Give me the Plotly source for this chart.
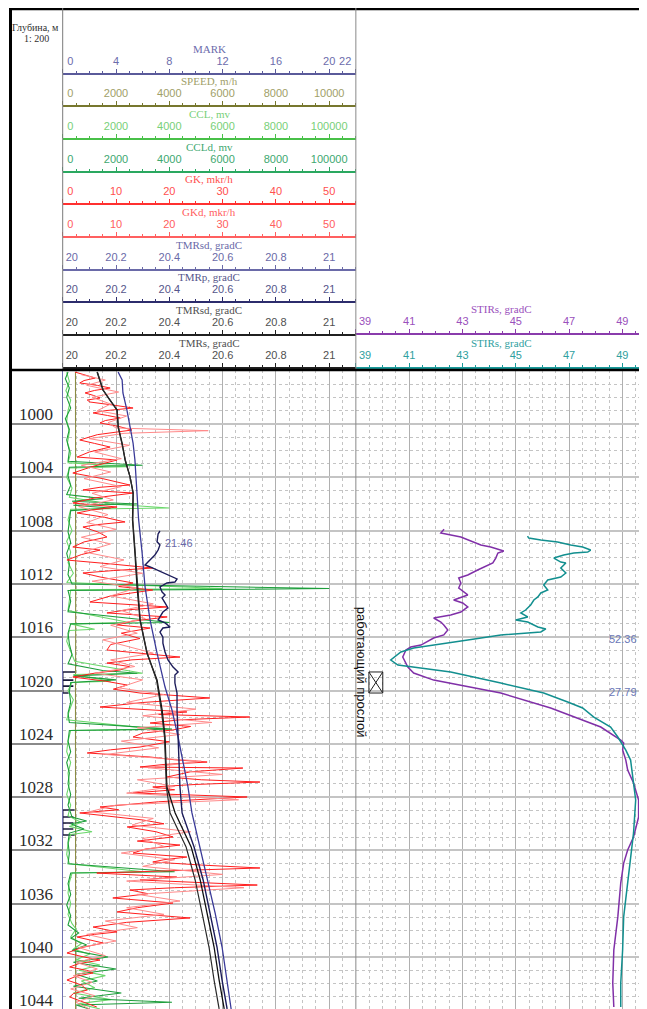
import plotly.graph_objects as go

# ---------------- DATA ----------------
depth_ticks = [1000, 1004, 1008, 1012, 1016, 1020, 1024, 1028, 1032, 1036, 1040, 1044]

mark_depth = [1018.61, 1018.61, 1020.19, 1020.19, None, 1019.22, 1019.22, None, 1019.67, 1019.67, None,
              1028.97, 1028.97, 1030.84, 1030.84, None, 1029.49, 1029.49, None, 1029.94, 1029.94, None, 1030.39, 1030.39]
mark_value = [0.95, 0.0, 0.0, 0.45, None, 0.0, 0.8, None, 0.0, 0.8, None,
              0.9, 0.0, 0.0, 0.9, None, 0.0, 0.8, None, 0.0, 0.8, None, 0.0, 0.8]

speed_depth = [996.1, 1000, 1004, 1008, 1012, 1016, 1020, 1024, 1028, 1032, 1036, 1040, 1043.9]
speed_value = [480, 485, 478, 482, 490, 486, 480, 484, 488, 482, 486, 480, 484]

ccl_depth = [996.1, 996.8, 997.5, 998.2, 999.0, 999.8, 1000.6, 1001.4, 1002.2, 1002.9, 1003.2, 1003.3, 1004.0,
             1004.8, 1005.5, 1006.0, 1006.3, 1006.4, 1007.2, 1008.0, 1008.8, 1009.6, 1010.4, 1011.2, 1011.9,
             1012.35, 1012.45, 1013.2, 1014.0, 1014.9, 1015.0, 1015.4, 1015.5, 1016.3, 1017.0, 1017.8, 1018.7,
             1018.8, 1019.3, 1019.4, 1020.0, 1020.7, 1021.5, 1022.2, 1022.9, 1023.0, 1023.8, 1024.6, 1025.4,
             1026.2, 1027.0, 1027.8, 1028.6, 1029.4, 1029.9, 1030.2, 1030.6, 1030.8, 1031.5, 1032.3, 1033.0,
             1033.6, 1033.7, 1034.4, 1035.2, 1036.0, 1036.8, 1037.5, 1037.9, 1038.5, 1039.0, 1039.4, 1039.8,
             1040.2, 1040.6, 1041.0, 1041.4, 1041.8, 1042.3, 1042.7, 1043.2, 1043.5, 1043.9]
ccl_value = [150, 250, 120, 300, 200, 150, 250, 180, 300, 200, 2400, 250, 150,
             350, 250, 1800, 4000, 300, 200, 350, 150, 300, 200, 400, 150,
             6000, 300, 250, 200, 2500, 300, 1200, 250, 150, 300, 450, 3000,
             400, 1800, 350, 200, 400, 250, 150, 3500, 300, 200, 150, 300,
             200, 250, 150, 300, 200, 700, 250, 1100, 300, 200, 150, 250,
             3000, 350, 250, 200, 300, 200, 350, 500, 300, 700, 400, 1000,
             500, 1400, 600, 1600, 700, 1200, 400, 1800, 600, 1400]

ccld_depth = [996.1, 996.6, 997.3, 998.0, 998.8, 999.6, 1000.4, 1001.2, 1002.0, 1002.8, 1003.1, 1003.25, 1003.9,
              1004.6, 1005.3, 1005.6, 1005.8, 1006.0, 1006.1, 1006.3, 1006.5, 1007.3, 1008.1, 1008.9, 1009.7,
              1010.5, 1011.3, 1012.0, 1012.35, 1012.5, 1013.3, 1014.1, 1014.9, 1015.0, 1015.7, 1016.5, 1017.3,
              1018.0, 1018.5, 1018.7, 1018.9, 1019.2, 1019.4, 1020.1, 1020.9, 1021.7, 1022.4, 1022.9, 1023.0,
              1023.8, 1024.6, 1025.4, 1026.2, 1027.0, 1027.8, 1028.6, 1029.5, 1029.8, 1030.0, 1030.4, 1030.7,
              1031.4, 1032.2, 1033.0, 1033.6, 1033.7, 1034.5, 1035.3, 1036.1, 1036.9, 1037.6, 1038.2, 1038.6,
              1039.1, 1039.5, 1040.0, 1040.4, 1040.9, 1041.3, 1041.8, 1042.2, 1042.7, 1043.1, 1043.4, 1043.6, 1043.9]
ccld_value = [200, 100, 250, 150, 300, 100, 250, 150, 250, 200, 3000, 250, 200,
              300, 150, 1500, 350, 2800, 400, 1800, 300, 250, 200, 300, 150,
              250, 200, 350, 10000, 200, 300, 200, 4000, 300, 200, 250, 350,
              200, 1500, 2800, 400, 2000, 300, 250, 300, 200, 250, 4100, 250,
              200, 300, 150, 250, 200, 300, 200, 350, 900, 300, 800, 250,
              200, 250, 200, 4200, 300, 200, 300, 150, 300, 200, 600, 300,
              900, 350, 1700, 400, 2000, 500, 1300, 400, 2200, 600, 4100, 500, 1000]

gk_depth = [996.10, 996.33, 996.55, 996.74, 996.92, 997.10, 997.30, 997.48, 997.67, 997.86, 998.05, 998.20,
            998.35, 998.58, 998.80, 999.00, 999.17, 999.36, 999.55, 999.74, 999.92, 1000.18, 1000.45, 1000.80,
            1001.20, 1001.46, 1001.73, 1002.10, 1002.48, 1002.70, 1003.20, 1003.68, 1004.10, 1004.58, 1004.75,
            1004.95, 1005.18, 1005.55, 1005.93, 1006.23, 1006.45, 1006.68, 1007.00, 1007.35, 1007.55, 1007.73,
            1008.10, 1008.48, 1008.85, 1009.23, 1009.46, 1009.80, 1010.21, 1010.50, 1010.81, 1011.00, 1011.18,
            1011.48, 1011.70, 1011.93, 1012.20, 1012.46, 1012.90, 1013.36, 1013.73, 1013.95, 1014.18, 1014.48,
            1014.80, 1015.08, 1015.31, 1015.70, 1016.10, 1016.55, 1016.96, 1017.20, 1017.49, 1017.70, 1017.94,
            1018.20, 1018.46, 1018.70, 1018.99, 1019.30, 1019.59, 1019.90, 1020.19, 1020.56, 1020.90, 1021.24,
            1021.61, 1021.80, 1021.99, 1022.20, 1022.44, 1022.70, 1022.96, 1023.20, 1023.49, 1023.85, 1024.24,
            1024.45, 1024.69, 1024.99, 1025.20, 1025.37, 1025.55, 1025.74, 1025.82, 1026.10, 1026.49, 1026.70,
            1026.87, 1027.05, 1027.24, 1027.45, 1027.69, 1027.99, 1028.35, 1028.74, 1028.95, 1029.19, 1029.45,
            1029.72, 1030.00, 1030.24, 1030.60, 1030.99, 1031.30, 1031.60, 1031.90, 1032.20, 1032.50, 1032.70,
            1032.87, 1033.10, 1033.32, 1033.50, 1033.70, 1034.00, 1034.22, 1034.60, 1034.80, 1034.97, 1035.25,
            1035.57, 1035.95, 1036.30, 1036.62, 1036.85, 1037.07, 1037.40, 1037.75, 1038.12, 1038.30, 1038.50,
            1038.95, 1039.30, 1039.70, 1040.00, 1040.23, 1040.50, 1040.75, 1041.00, 1041.20, 1041.45, 1041.73,
            1042.10, 1042.48, 1042.75, 1043.00, 1043.40, 1043.75]
gk_value = [2.3, 4.5, 6.1, 4.0, 3.2, 6.5, 8.9, 6.0, 4.2, 5.8, 7.0, 4.6,
            5.1, 9.5, 13.2, 8.0, 5.7, 8.4, 10.8, 8.0, 7.0, 10.5, 13.0, 6.5,
            3.2, 6.0, 8.9, 5.0, 2.7, 10.2, 5.5, 1.9, 7.5, 12.6, 7.0,
            3.8, 13.2, 6.0, 1.9, 10.2, 5.5, 2.7, 7.8, 11.7, 6.5, 3.8,
            6.6, 8.3, 4.0, 1.9, 7.0, 3.5, 0.8, 9.0, 16.9, 9.5, 3.8,
            7.0, 10.0, 13.2, 10.5, 16.9, 9.0, 5.1, 19.6, 12.0, 8.3, 19.6,
            13.0, 10.2, 16.4, 11.0, 14.5, 9.0, 8.3, 15.0, 22.0, 13.0, 8.3,
            12.5, 10.8, 6.0, 1.9, 8.0, 12.1, 9.5, 14.5, 27.6, 15.0, 7.0,
            23.3, 18.0, 35.1, 22.0, 16.4, 24.0, 20.7, 15.0, 13.2, 20.0, 14.5,
            9.0, 4.6, 16.4, 21.0, 27.1, 19.0, 14.5, 33.8, 24.0, 19.6, 26.0,
            37.0, 25.0, 16.9, 21.0, 13.2, 34.6, 18.0, 7.0, 10.5, 3.2, 9.0,
            15.1, 19.0, 12.1, 17.5, 20.7, 14.0, 22.0, 15.5, 13.2, 23.3, 19.0,
            16.9, 26.0, 37.0, 20.0, 6.4, 21.4, 14.5, 36.5, 21.0, 12.6, 16.0,
            9.4, 20.7, 14.0, 10.2, 17.0, 23.9, 12.0, 5.7, 10.2, 6.0, 2.7,
            7.6, 3.5, 0.8, 4.0, 7.0, 3.0, 1.3, 4.5, 5.7, 2.5, 0.8,
            3.5, 4.6, 2.0, 1.3, 4.0, 6.4]

gkd_depth = [996.3, 996.7, 997.1, 997.6, 998.0, 998.5, 999.0, 999.4, 999.9, 1000.3, 1000.5, 1000.7, 1001.1,
             1001.6, 1002.1, 1002.6, 1003.1, 1003.6, 1004.1, 1004.7, 1005.2, 1005.7, 1006.2, 1006.8, 1007.4,
             1007.9, 1008.5, 1009.0, 1009.6, 1010.2, 1010.7, 1011.2, 1011.8, 1012.3, 1012.9, 1013.5, 1014.0,
             1014.6, 1015.1, 1015.7, 1016.2, 1016.7, 1017.2, 1017.7, 1018.2, 1018.7, 1019.2, 1019.8, 1020.3,
             1020.9, 1021.4, 1021.9, 1022.4, 1022.8, 1023.3, 1023.8, 1024.3, 1024.8, 1025.3, 1025.8, 1026.3,
             1026.7, 1027.2, 1027.7, 1028.2, 1028.6, 1029.1, 1029.6, 1030.1, 1030.6, 1031.1, 1031.7, 1032.2,
             1032.7, 1033.2, 1033.8, 1034.3, 1034.8, 1035.3, 1035.8, 1036.3, 1036.8, 1037.3, 1037.8, 1038.3,
             1038.8, 1039.3, 1039.9, 1040.4, 1040.9, 1041.4, 1041.9, 1042.4, 1042.9, 1043.4, 1043.9]
gkd_value = [3.5, 8.0, 4.5, 10.5, 5.5, 9.0, 6.5, 12.0, 8.5, 10.0, 27.3, 11.5, 5.0,
             12.5, 6.0, 11.0, 3.5, 9.0, 4.0, 11.0, 5.5, 9.5, 3.0, 8.5, 4.5,
             10.0, 3.5, 9.0, 4.0, 11.5, 7.0, 15.0, 5.5, 14.0, 9.0, 17.0, 11.0,
             15.5, 9.0, 14.0, 7.5, 12.5, 17.0, 9.0, 13.5, 6.0, 15.0, 10.5, 19.0,
             12.0, 25.0, 15.0, 28.0, 14.0, 22.0, 11.0, 18.0, 8.0, 26.0, 16.0, 30.0,
             14.0, 21.0, 12.0, 33.0, 10.0, 5.0, 17.0, 13.0, 24.0, 15.0, 19.0, 11.0,
             21.0, 15.0, 30.0, 12.0, 34.0, 14.0, 22.0, 12.0, 19.0, 8.0, 14.0, 4.5,
             10.0, 3.0, 8.0, 2.5, 6.5, 2.0, 5.5, 1.5, 6.0, 2.5, 5.0]

tmrsd_blue_depth = [996.10, 996.70, 997.67, 998.95, 1000.23, 1001.43, 1002.70, 1005.18, 1007.20, 1009.68, 1012.23,
                    1014.71, 1017.19, 1019.74, 1021.46, 1023.49, 1027.24, 1029.19, 1031.74, 1034.22, 1036.70,
                    1039.25, 1041.73, 1043.90]
tmrsd_blue_value = [20.208, 20.223, 20.226, 20.241, 20.253, 20.264, 20.271, 20.279, 20.285, 20.298, 20.309,
                    20.328, 20.354, 20.384, 20.410, 20.433, 20.470, 20.485, 20.515, 20.545, 20.572,
                    20.598, 20.617, 20.632]

tmrp_depth = [1008.03, 1008.25, 1008.83, 1009.08, 1009.46, 1009.83, 1010.36, 1010.58, 1010.73, 1010.96, 1011.33,
              1011.63, 1011.86, 1011.93, 1012.23, 1012.61, 1012.83, 1013.06, 1013.43, 1013.81, 1014.11, 1014.48,
              1014.71, 1014.93, 1015.23, 1015.31, 1015.61, 1015.99, 1016.44, 1017.11, 1017.71, 1018.24, 1018.61,
              1018.84, 1019.44, 1020.19, 1021.46, 1023.49, 1027.24, 1029.19, 1031.74, 1034.22, 1036.70, 1039.25,
              1041.73, 1043.90]
tmrp_value = [20.365, 20.358, 20.354, 20.365, 20.358, 20.346, 20.320, 20.309, 20.328, 20.354, 20.391,
              20.429, 20.421, 20.391, 20.365, 20.373, 20.384, 20.373, 20.384, 20.395, 20.376, 20.365,
              20.358, 20.384, 20.403, 20.376, 20.365, 20.376, 20.376, 20.384, 20.395, 20.414, 20.433,
              20.421, 20.421, 20.429, 20.429, 20.433, 20.440, 20.448, 20.493, 20.527, 20.553, 20.579,
              20.598, 20.617]

tmrsd_black_depth = [996.10, 996.70, 997.45, 998.20, 998.95, 1000.23, 1001.43, 1002.70, 1003.98, 1005.18, 1007.20,
                     1009.68, 1012.23, 1014.71, 1017.19, 1019.21, 1021.46, 1023.49, 1027.24, 1029.19, 1031.74,
                     1034.22, 1036.70, 1039.25, 1041.73, 1043.90]
tmrsd_black_value = [20.129, 20.140, 20.151, 20.177, 20.204, 20.208, 20.223, 20.234, 20.253, 20.264, 20.262,
                     20.271, 20.279, 20.290, 20.316, 20.354, 20.373, 20.384, 20.391, 20.422, 20.482,
                     20.516, 20.542, 20.568, 20.587, 20.606]

tmrs_depth = [996.10, 996.70, 997.45, 998.20, 998.95, 1000.23, 1001.43, 1002.70, 1003.98, 1005.18, 1007.20,
              1009.68, 1012.23, 1014.71, 1017.19, 1019.21, 1021.46, 1023.49, 1027.24, 1029.19, 1031.74,
              1034.22, 1036.70, 1039.25, 1041.73, 1043.90]
tmrs_value = [20.130, 20.141, 20.152, 20.178, 20.204, 20.209, 20.223, 20.235, 20.253, 20.265, 20.263,
              20.272, 20.280, 20.291, 20.317, 20.352, 20.370, 20.382, 20.389, 20.403, 20.463,
              20.497, 20.523, 20.549, 20.568, 20.587]

stir_p_depth = [1007.90, 1008.18, 1008.48, 1008.86, 1009.08, 1009.23, 1009.46, 1009.53, 1009.68, 1010.06, 1010.43,
                1010.73, 1010.96, 1011.33, 1011.56, 1011.93, 1012.31, 1012.83, 1013.21, 1013.43, 1013.73, 1014.11,
                1014.33, 1014.56, 1014.86, 1015.08, 1015.46, 1015.83, 1016.06, 1016.59, 1016.74, 1016.96, 1017.49,
                1018.24, 1018.69, 1019.22, 1019.74, 1020.19, 1021.31, 1021.99, 1022.74, 1023.72, 1023.94, 1024.47,
                1025.22, 1025.97, 1026.94, 1028.22, 1029.49, 1030.99, 1031.97, 1032.95, 1034.45, 1036.99, 1039.47,
                1041.95, 1043.75]
stir_p_value = [42.31, 42.19, 42.94, 43.42, 43.69, 44.06, 44.44, 44.55, 44.33, 44.25, 44.14,
                43.80, 43.57, 43.20, 42.86, 42.94, 42.86, 43.20, 42.67, 43.01, 43.20, 42.94,
                42.56, 41.92, 42.19, 42.30, 42.45, 42.30, 41.92, 41.44, 41.06, 40.88, 40.76,
                40.95, 41.17, 41.92, 43.20, 44.44, 46.31, 47.18, 48.19, 48.94, 49.05, 49.01,
                49.13, 49.20, 49.42, 49.61, 49.61, 49.42, 49.20, 49.05, 48.94, 48.83, 48.68,
                48.64, 48.68]

stir_t_depth = [1008.41, 1008.56, 1008.71, 1008.86, 1009.08, 1009.23, 1009.46, 1009.61, 1009.68, 1009.83, 1010.06,
                1010.36, 1010.43, 1010.81, 1011.18, 1011.48, 1011.71, 1012.08, 1012.46, 1012.68, 1012.98, 1013.21,
                1013.58, 1013.96, 1014.18, 1014.48, 1014.71, 1014.86, 1015.23, 1015.38, 1015.61, 1015.83, 1016.21,
                1016.59, 1016.81, 1017.11, 1017.71, 1018.09, 1018.61, 1019.44, 1020.19, 1020.86, 1021.31, 1021.99,
                1022.74, 1023.49, 1024.47, 1025.22, 1026.94, 1028.22, 1030.69, 1032.50, 1034.45, 1036.99, 1039.47,
                1041.95, 1043.75]
stir_t_value = [45.44, 45.49, 45.94, 46.57, 47.06, 47.51, 47.81, 47.70, 47.18, 46.80, 46.43,
                46.69, 46.88, 46.69, 46.88, 46.69, 46.20, 46.05, 46.20, 45.94, 45.83, 45.68,
                45.56, 45.37, 45.19, 45.45, 45.00, 45.45, 45.83, 46.13, 45.94, 44.44, 43.20,
                41.92, 41.17, 40.69, 40.31, 40.58, 42.56, 44.44, 46.05, 46.95, 47.51, 47.93,
                48.56, 48.83, 49.13, 49.31, 49.42, 49.50, 49.42, 49.31, 49.20, 49.05, 49.01,
                48.94, 48.94]

layer_top, layer_bottom = 1018.61, 1020.19
layer_box_x = [39.49, 40.01]
layer_label = "работающий прослой"

value_labels = [("21.46", 20.376, 1008.93)]
stir_end_labels = [("52.36", 1016.15), ("27.79", 1020.10)]

# ---------------- GEOMETRY / STYLE ----------------
# the page places the figure 8 px from the window's top-left corner
OX, OY = 8, 8
Wf, Hf = 647 - OX, 1009 - OY
def fx(p): return (p - OX) / Wf
def fy(p): return 1 - (p - OY) / Hf

PX_PER_M = 13.325
L1 = 62.7
R1 = L1 + 1.1 * 266.5
L2 = R1
R2 = 647.0
TOP = 370
NB = "\u00a0"
STIR_MAX = 39 + (R2 - L2) / 26.65

fig = go.Figure()

def add_line(x, y, axis_x, axis_y, color, width=1.2, name=""):
    fig.add_trace(go.Scatter(x=x, y=y, xaxis=axis_x, yaxis=axis_y, mode="lines",
                             line=dict(color=color, width=width), name=name,
                             showlegend=False, hoverinfo="skip", connectgaps=False))

# header axes: (axis id, overlay, y_line, range, tickvals, ticktext, minor dtick, line color, label color, title)
header = [
    ("x4", "x", 74, [0, 22], [0, 4, 8, 12, 16, 20, 22],
     [NB * 5 + "0", "4", "8", "12", "16", "20", "22" + NB * 7], 1, "#5a5a9a", "#6c6cac", "MARK"),
    ("x5", "x", 106, [0, 11000], [0, 2000, 4000, 6000, 8000, 10000],
     [NB * 5 + "0", "2000", "4000", "6000", "8000", "10000"], 500, "#77772e", "#a0a068", "SPEED, m/h"),
    ("x6", "x", 139, [0, 11000], [0, 2000, 4000, 6000, 8000, 10000],
     [NB * 5 + "0", "2000", "4000", "6000", "8000", "100000"], 500, "#48c048", "#78d078", "CCL, mv"),
    ("x7", "x", 172, [0, 11000], [0, 2000, 4000, 6000, 8000, 10000],
     [NB * 5 + "0", "2000", "4000", "6000", "8000", "100000"], 500, "#2aa860", "#40a870", "CCLd, mv"),
    ("x8", "x", 204, [0, 55], [0, 10, 20, 30, 40, 50],
     [NB * 5 + "0", "10", "20", "30", "40", "50"], 2.5, "#ff3030", "#ff5050", "GK, mkr/h"),
    ("x9", "x", 237, [0, 55], [0, 10, 20, 30, 40, 50],
     [NB * 5 + "0", "10", "20", "30", "40", "50"], 2.5, "#ff6060", "#ff6060", "GKd, mkr/h"),
    ("x10", "x", 270, [20, 21.1], [20, 20.2, 20.4, 20.6, 20.8, 21],
     [NB * 6 + "20", "20.2", "20.4", "20.6", "20.8", "21"], 0.05, "#6a6aa8", "#6a6aa8", "TMRsd, gradC"),
    ("x11", "x", 302, [20, 21.1], [20, 20.2, 20.4, 20.6, 20.8, 21],
     [NB * 6 + "20", "20.2", "20.4", "20.6", "20.8", "21"], 0.05, "#2c2c6c", "#55558a", "TMRp, gradC"),
    ("x12", "x", 335, [20, 21.1], [20, 20.2, 20.4, 20.6, 20.8, 21],
     [NB * 6 + "20", "20.2", "20.4", "20.6", "20.8", "21"], 0.05, "#202020", "#505050", "TMRsd, gradC"),
    ("x13", "x", 368, [20, 21.1], [20, 20.2, 20.4, 20.6, 20.8, 21],
     [NB * 6 + "20", "20.2", "20.4", "20.6", "20.8", "21"], 0.05, "#202020", "#505050", "TMRs, gradC"),
    ("x14", "x2", 334, [39, STIR_MAX], [39, 41, 43, 45, 47, 49],
     [NB * 6 + "39", "41", "43", "45", "47", "49"], 0.5, "#8a3cac", "#9a50bc", "STIRs, gradC"),
    ("x15", "x2", 368, [39, STIR_MAX], [39, 41, 43, 45, 47, 49],
     [NB * 6 + "39", "41", "43", "45", "47", "49"], 0.5, "#1a9a9a", "#30a0a0", "STIRs, gradC"),
]

# traces (order = draw order)
add_line(ccl_value, ccl_depth, "x6", "y", "#6cd86c", 1.1, "CCL")
add_line(ccld_value, ccld_depth, "x7", "y", "#1e9e3c", 1.1, "CCLd")
add_line(speed_value, speed_depth, "x5", "y", "#8c8c44", 1.1, "SPEED")
add_line(gkd_value, gkd_depth, "x9", "y", "#ff8a8a", 1.0, "GKd")
add_line(gk_value, gk_depth, "x8", "y", "#ff1e1e", 1.0, "GK")
add_line(tmrsd_blue_value, tmrsd_blue_depth, "x10", "y", "#3a3a98", 1.3, "TMRsd")
add_line(tmrp_value, tmrp_depth, "x11", "y", "#1c1c5a", 1.4, "TMRp")
add_line(tmrsd_black_value, tmrsd_black_depth, "x12", "y", "#101010", 1.3, "TMRsd")
add_line(tmrs_value, tmrs_depth, "x13", "y", "#2a2a2a", 1.2, "TMRs")
fig.add_trace(go.Scatter(x=mark_value, y=mark_depth, xaxis="x4", yaxis="y", mode="lines",
                         line=dict(color="#1a1a3a", width=1.6), showlegend=False, hoverinfo="skip"))
add_line(stir_p_value, stir_p_depth, "x14", "y2", "#8030a8", 1.5, "STIRs")
add_line(stir_t_value, stir_t_depth, "x15", "y2", "#128f8f", 1.5, "STIRs")
bx = [layer_box_x[0], layer_box_x[1], layer_box_x[1], layer_box_x[0], layer_box_x[0], layer_box_x[1], None,
      layer_box_x[1], layer_box_x[0]]
by = [layer_top, layer_top, layer_bottom, layer_bottom, layer_top, layer_bottom, None, layer_top, layer_bottom]
add_line(bx, by, "x2", "y2", "#202020", 1.0, "layer")

grid_major = "#b0b0b0"
grid_minor = "#c4c4c4"
ydom = [0, fy(TOP)]
yrange = [1000 + (1009 - 424) / PX_PER_M, 1000 + (TOP - 424) / PX_PER_M]

layout = dict(
    width=Wf, height=Hf, margin=dict(l=0, r=0, t=0, b=0, autoexpand=False),
    paper_bgcolor="white", plot_bgcolor="white", showlegend=False,
    xaxis=dict(domain=[fx(L1), fx(R1)], range=[20, 21.1], anchor="y", showticklabels=False, ticks="",
               showgrid=True, gridcolor=grid_major, gridwidth=1, tick0=20, dtick=0.2, zeroline=False,
               minor=dict(tick0=20, dtick=0.05, showgrid=True, gridcolor=grid_minor, griddash="dot", gridwidth=1),
               fixedrange=True, automargin=False),
    yaxis=dict(domain=ydom, range=yrange, anchor="x", showticklabels=False, ticks="", zeroline=False,
               showgrid=True, gridcolor="#c4c4c4", gridwidth=2, tick0=1000, dtick=4,
               minor=dict(tick0=1000, dtick=1, showgrid=True, gridcolor=grid_minor, griddash="dot", gridwidth=1),
               showline=True, linecolor="#7070b0", linewidth=1, fixedrange=True, automargin=False),
    xaxis2=dict(domain=[fx(L2), 1], range=[39, STIR_MAX], anchor="y2", showticklabels=False,
                ticks="", showgrid=True, gridcolor=grid_major, gridwidth=1, tick0=39, dtick=2, zeroline=False,
                minor=dict(tick0=39, dtick=0.5, showgrid=True, gridcolor=grid_minor, griddash="dot", gridwidth=1),
                fixedrange=True, automargin=False),
    yaxis2=dict(domain=ydom, matches="y", anchor="x2", showticklabels=False, ticks="", zeroline=False,
                showgrid=True, gridcolor="#c4c4c4", gridwidth=2, tick0=1000, dtick=4,
                minor=dict(tick0=1000, dtick=1, showgrid=True, gridcolor=grid_minor, griddash="dot", gridwidth=1),
                fixedrange=True, automargin=False),
    xaxis3=dict(domain=[fx(10), fx(L1)], range=[0, 1], anchor="y3", visible=False, fixedrange=True,
                automargin=False),
    yaxis3=dict(domain=ydom, matches="y", anchor="x3", showticklabels=False, ticks="", zeroline=False,
                showgrid=True, gridcolor="#8a8a8a", gridwidth=1.5, tick0=1000, dtick=4, fixedrange=True,
                automargin=False),
)

annotations = []
for (aid, ov, yl, rng, tv, tt, md, lc, tc, title) in header:
    key = "xaxis" + aid[1:]
    layout[key] = dict(
        overlaying=ov, anchor="free", position=fy(yl), side="top", range=rng,
        tickmode="array", tickvals=tv, ticktext=tt, tickangle=0, ticks="outside", ticklen=4, tickwidth=1,
        tickcolor=lc,
        minor=dict(tickmode="linear", tick0=rng[0], dtick=md, ticks="outside", ticklen=2, tickwidth=1,
                   tickcolor=lc, showgrid=False),
        showline=True, linecolor=lc, linewidth=1.6, showgrid=False, zeroline=False, automargin=False,
        tickfont=dict(family="Liberation Sans", size=11, color=tc), fixedrange=True)
    cx = (L1 + R1) / 2 if ov == "x" else (L2 + R2) / 2
    annotations.append(dict(text=title, xref="paper", yref="paper", x=fx(cx), y=fy(yl - 25),
                            xanchor="center", yanchor="middle", showarrow=False,
                            font=dict(family="Liberation Serif", size=11, color=tc)))

# depth labels sit just above their grid line; anchored half a metre higher so the last one stays in range
for d in depth_ticks:
    annotations.append(dict(text=str(d), xref="paper", yref="y3", x=fx(36), y=d - 0.5, xanchor="center",
                            yanchor="bottom", yshift=-(0.5 * PX_PER_M) - 2, showarrow=False,
                            font=dict(family="Liberation Serif", size=17, color="#2a2a2a")))

annotations.append(dict(text="Глубина, м", xref="paper", yref="paper", x=fx(61), y=fy(28), xanchor="right",
                        yanchor="middle", showarrow=False,
                        font=dict(family="Liberation Serif", size=10, color="#303030")))
annotations.append(dict(text="1: 200", xref="paper", yref="paper", x=fx(36), y=fy(38.5), xanchor="center",
                        yanchor="middle", showarrow=False,
                        font=dict(family="Liberation Serif", size=10, color="#303030")))

for (t, xv, dv) in value_labels:
    annotations.append(dict(text=t, xref="x", yref="y", x=xv, y=dv, xanchor="left", yanchor="middle",
                            showarrow=False, font=dict(family="Liberation Sans", size=11, color="#6a6aaa")))
for (t, dv) in stir_end_labels:
    annotations.append(dict(text=t, xref="paper", yref="y", x=fx(639), y=dv, xanchor="right", yanchor="middle",
                            showarrow=False, font=dict(family="Liberation Sans", size=11, color="#6a78b8")))

annotations.append(dict(text=layer_label, xref="paper", yref="y", x=fx(361), y=1018.6, textangle=90,
                        xanchor="center", yanchor="middle", showarrow=False,
                        font=dict(family="Liberation Sans", size=13, color="#111111")))

shapes = [
    dict(type="line", xref="paper", yref="paper", x0=fx(10), x1=1, y0=fy(9), y1=fy(9),
         line=dict(color="#000000", width=2.5)),
    dict(type="line", xref="paper", yref="paper", x0=fx(10.5), x1=fx(10.5), y0=fy(8), y1=0,
         line=dict(color="#000000", width=3)),
    dict(type="line", xref="paper", yref="paper", x0=fx(L1), x1=fx(L1), y0=fy(8), y1=fy(TOP),
         line=dict(color="#7a7a7a", width=1)),
    dict(type="line", xref="paper", yref="paper", x0=fx(L2), x1=fx(L2), y0=fy(8), y1=0,
         line=dict(color="#8a8a8a", width=1)),
    dict(type="line", xref="paper", yref="paper", x0=fx(10), x1=1, y0=fy(TOP), y1=fy(TOP),
         line=dict(color="#000000", width=2.5)),
]

layout["annotations"] = annotations
layout["shapes"] = shapes
fig.update_layout(**layout)
fig.write_html("out.html")
